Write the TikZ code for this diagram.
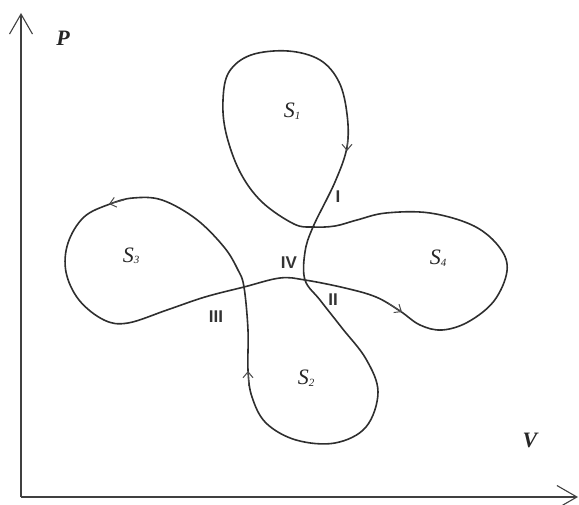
\documentclass[tikz,border=0pt]{standalone}
\usepackage{fontspec}
\setmainfont{Liberation Serif}
\setsansfont{Liberation Sans}
\usetikzlibrary{arrows.meta}
\begin{document}
\begin{tikzpicture}[x=1pt,y=-1pt,
  curve/.style={line width=1.6pt, draw=black!82, line join=round},
  axis/.style={line width=1.2pt, draw=black!75, -{Straight Barb[length=20pt,width=23pt,line width=1.1pt]}},
  tip/.style={line width=1pt, draw=black!70, -{Straight Barb[length=6pt,width=10pt]}},
  area/.style={font=\fontsize{22}{22}\selectfont\itshape, inner sep=0pt, text=black!85},
  roman/.style={font=\fontsize{17}{17}\selectfont\sffamily\bfseries, text=black!80, inner sep=0pt},
  axlabel/.style={font=\fontsize{22}{22}\selectfont\bfseries\itshape, inner sep=0pt, text=black!85}]
\useasboundingbox (0,0) rectangle (579,505);
\newcommand{\sub}[1]{\raisebox{-1.5pt}{\fontsize{11}{11}\selectfont #1}}
% axes
\coordinate (O) at (21,497);
\coordinate (Ptip) at (21,13);
\coordinate (Vtip) at (578,497);
\draw[axis] (O) -- (Ptip);
\draw[axis] (O) -- (Vtip);
\node[axlabel] (P) at (63,38) {P};
\node[axlabel] (V) at (530,440) {V};
% the closed curve
\draw[curve] plot[smooth cycle, tension=0.6] coordinates {
  (347,147) (335,182) (313,227) (305,252) (305,280) (320,300) (342,328)
  (366,359) (378,392) (366,427) (335,443) (296,440) (266,423) (252,397)
  (248,370) (248,330) (244,287) (238,270) (224,247) (196,219) (162,200)
  (133,198) (110,204) (84,217) (68,243) (66,272) (79,300) (104,320)
  (128,323) (167,310) (205,297) (244,287) (280,278) (305,280) (345,288)
  (376,297) (400,311) (420,325) (442,330) (468,322) (494,301) (507,271)
  (500,248) (474,226) (430,213) (386,213) (357,220) (335,226) (313,227)
  (294,224) (262,202) (240,172) (226,133) (223,100) (229,72) (251,55)
  (288,51) (320,60) (339,82) (347,114)};
% direction marks
\coordinate (a1s) at (347,136); \coordinate (a1e) at (347,151);
\coordinate (a2s) at (248,386); \coordinate (a2e) at (248,371);
\coordinate (a3s) at (124,200); \coordinate (a3e) at (109,204);
\coordinate (a4s) at (388,303); \coordinate (a4e) at (402,312);
\draw[tip] (a1s) -- (a1e);
\draw[tip] (a2s) -- (a2e);
\draw[tip] (a3s) -- (a3e);
\draw[tip] (a4s) -- (a4e);
% area labels
\node[area] (S1) at (292,111) {S\sub{1}};
\node[area] (S2) at (306,378) {S\sub{2}};
\node[area] (S3) at (131,256) {S\sub{3}};
\node[area] (S4) at (438,258) {S\sub{4}};
% branch labels
\node[roman] (I) at (338,197) {I};
\node[roman] (II) at (333,300) {II};
\node[roman] (III) at (216,317) {III};
\node[roman] (IV) at (289,263) {IV};
\end{tikzpicture}
\end{document}
